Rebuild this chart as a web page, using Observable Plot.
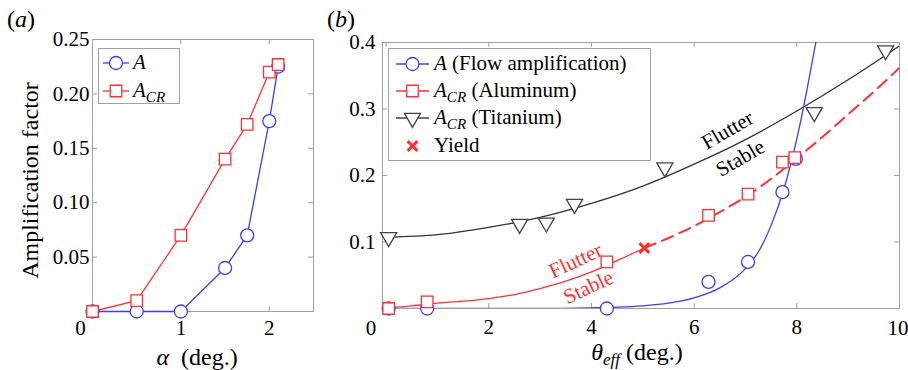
<!DOCTYPE html>
<html>
<head>
<meta charset="utf-8">
<script src="https://cdn.jsdelivr.net/npm/d3@7"></script>
<script src="https://cdn.jsdelivr.net/npm/@observablehq/plot@0.6"></script>
<style>
  html, body { margin: 0; padding: 0; background: #fff; }
  #fig { position: relative; width: 908px; height: 370px; overflow: hidden;
         font-family: "Liberation Serif", "Times New Roman", serif; color: #000; }
  #fig > svg { position: absolute; top: 0; }
  .ov { position: absolute; white-space: nowrap; line-height: 1; }
  .legend { position: absolute; background: #fff; border: 1px solid #a0a0a0; box-sizing: border-box; }
  .legend svg { position: absolute; left: 0; overflow: visible; }
  .sub { font-size: 72%; position: relative; top: 0.32em; font-style: italic; }
</style>
</head>
<body>
<div id="fig"></div>
<script>
// ---- (a) amplification factor versus angle of attack ----
const alphaDeg   = [0, 0.5, 1, 1.5, 1.75, 2.0, 2.1];
const ampFlow    = [0, 0, 0, 0.04, 0.07, 0.175, 0.225];
const ampCR      = [0, 0.01, 0.07, 0.14, 0.172, 0.22, 0.227];
const alphaTicks = [0, 1, 2];
const ampTicksA  = [0.05, 0.10, 0.15, 0.20, 0.25];

// ---- (b) amplification factor versus effective angle ----
const thetaFlow  = [0.05, 0.8, 4.3, 6.28, 7.05, 7.72, 7.98];
const thetaAl    = [0.05, 0.8, 4.3, 6.28, 7.05, 7.72, 7.96];
const thetaTi    = [0.05, 2.6, 3.12, 3.67, 5.43, 8.34, 9.73];
const crTi       = [0.107, 0.127, 0.129, 0.157, 0.212, 0.295, 0.388];
const yieldTheta = [5.03];
const yieldCR    = [0.091];

// fitted curves
const fitFlowTheta = [0, 1, 2, 3, 4, 4.5, 5, 5.5, 6, 6.5, 7, 7.25, 7.5, 7.75, 8, 8.2, 8.37];
const fitFlowA     = [0, 0, 0, 0, 0.001, 0.002, 0.004, 0.008, 0.016, 0.031, 0.06, 0.085, 0.125, 0.18, 0.255, 0.33, 0.4];
const fitAlTheta   = [0, 0.5, 1, 1.5, 2, 2.5, 3, 3.5, 4, 4.5, 5.03];
const fitAlCR      = [0.001, 0.004, 0.008, 0.011, 0.015, 0.021, 0.03, 0.041, 0.055, 0.072, 0.091];
const fitAlTheta2  = [5.03, 5.5, 6, 6.5, 7, 7.5, 8, 8.5, 9, 9.5, 10];
const fitAlCR2     = [0.091, 0.106, 0.124, 0.145, 0.168, 0.195, 0.226, 0.258, 0.292, 0.326, 0.362];
const fitTiTheta   = [0, 1, 2, 3, 4, 5, 6, 7, 8, 9, 10];
const fitTiCR      = [0.107, 0.111, 0.122, 0.137, 0.158, 0.184, 0.217, 0.254, 0.297, 0.344, 0.395];

const thetaTicks = [0, 2, 4, 6, 8, 10];
const ampTicksB  = [0.1, 0.2, 0.3, 0.4];

// region labels along the flutter boundaries
const boundTi    = {theta: [6.65, 6.9], amp: [0.268, 0.226], text: ["Flutter", "Stable"]};
const boundAl    = {theta: [3.69, 3.94], amp: [0.072, 0.032], text: ["Flutter", "Stable"]};

const BLUE = "#3c3cff", RED = "#ff3030", DARK = "#333", FRAME = "#a0a0a0";
const SERIF = '"Liberation Serif", "Times New Roman", serif';

const rows = (xs, ys) => xs.map((x, i) => ({x, y: ys[i]}));
const fig = d3.select("#fig");

function inwardTicks(xs, ys, w, h) {
  return [
    Plot.tickX(xs, {x: d => d, stroke: FRAME, insetTop: h - 5}),
    Plot.tickX(xs, {x: d => d, stroke: FRAME, insetBottom: h - 5}),
    Plot.tickY(ys, {y: d => d, stroke: FRAME, insetRight: w - 5}),
    Plot.tickY(ys, {y: d => d, stroke: FRAME, insetLeft: w - 5})
  ];
}

// ---------- panel (a) ----------
const A = {width: 330, height: 370, ml: 92, mr: 17, mt: 39, mb: 59};
const aW = A.width - A.ml - A.mr, aH = A.height - A.mt - A.mb;
const plotA = Plot.plot({
  width: A.width, height: A.height,
  marginLeft: A.ml, marginRight: A.mr, marginTop: A.mt, marginBottom: A.mb,
  x: {domain: [0, 2.5]},
  y: {domain: [0, 0.25]},
  style: {fontFamily: SERIF, fontSize: "21px", color: "#000", background: "transparent"},
  marks: [
    Plot.frame({stroke: FRAME}),
    ...inwardTicks(alphaTicks, ampTicksA, aW, aH),
    Plot.axisX(alphaTicks, {tickSize: 0, tickPadding: 9, tickFormat: d => d === 0 ? "" : String(d), label: null, fontFamily: SERIF}),
    Plot.axisY(ampTicksA, {tickSize: 0, tickPadding: 3, tickFormat: d3.format(".2f"), label: null, fontFamily: SERIF}),
    // origin label, set left of the corner
    Plot.text(alphaTicks.filter(d => d === 0), {x: d => d, frameAnchor: "bottom", lineAnchor: "middle", dy: 17, dx: -12, text: d => String(d), fontFamily: SERIF}),
    Plot.text(["Amplification factor"], {frameAnchor: "left", textAnchor: "middle", lineAnchor: "middle", dx: -62, dy: 5, rotate: -90, fontSize: 24, fontFamily: SERIF}),
    Plot.text(["α  (deg.)"], {frameAnchor: "bottom", textAnchor: "middle", lineAnchor: "middle", dy: 46, dx: -6, fontSize: 24, fontFamily: SERIF}),
    Plot.line(rows(alphaDeg, ampCR), {x: "x", y: "y", stroke: RED, strokeWidth: 1.3}),
    Plot.line(rows(alphaDeg, ampFlow), {x: "x", y: "y", stroke: BLUE, strokeWidth: 1.3}),
    Plot.dot(rows(alphaDeg, ampFlow), {x: "x", y: "y", symbol: "circle", r: 6.5, stroke: BLUE, fill: "white", strokeWidth: 1.3}),
    Plot.dot(rows(alphaDeg, ampCR), {x: "x", y: "y", symbol: "square", r: 6.5, stroke: RED, fill: "white", strokeWidth: 1.3})
  ]
});
d3.select(plotA).style("left", "0px");
fig.node().appendChild(plotA);

// ---------- panel (b) ----------
const B = {left: 330, width: 578, height: 370, ml: 52, mr: 9, mt: 42, mb: 62};
const bW = B.width - B.ml - B.mr, bH = B.height - B.mt - B.mb;
const thetaFirst = thetaTicks[0], thetaLast = thetaTicks[thetaTicks.length - 1];
const plotB = Plot.plot({
  width: B.width, height: B.height,
  marginLeft: B.ml, marginRight: B.mr, marginTop: B.mt, marginBottom: B.mb,
  x: {domain: [-0.07, 10]},
  y: {domain: [0, 0.4]},
  style: {fontFamily: SERIF, fontSize: "21px", color: "#000", background: "transparent"},
  marks: [
    Plot.frame({stroke: FRAME}),
    ...inwardTicks(thetaTicks, ampTicksB, bW, bH),
    Plot.axisX(thetaTicks, {tickSize: 0, tickPadding: 11, tickFormat: d => (d === thetaFirst || d === thetaLast) ? "" : String(d), label: null, fontFamily: SERIF}),
    Plot.axisY(ampTicksB, {tickSize: 0, tickPadding: 7, tickFormat: d3.format(".1f"), label: null, fontFamily: SERIF}),
    // end labels: origin left of the corner, last one kept inside the page
    Plot.text([thetaFirst], {x: d => d, frameAnchor: "bottom", lineAnchor: "middle", dy: 20, dx: -15, text: d => String(d), fontFamily: SERIF}),
    Plot.text([thetaLast], {x: d => d, frameAnchor: "bottom", lineAnchor: "middle", textAnchor: "end", dy: 20, dx: 9, text: d => String(d), fontFamily: SERIF}),
    Plot.text(["θeff (deg.)"], {frameAnchor: "bottom", textAnchor: "middle", lineAnchor: "middle", dy: 44, dx: -4, fontSize: 24, fontFamily: SERIF}),
    // fitted boundaries
    Plot.line(rows(fitTiTheta, fitTiCR), {x: "x", y: "y", stroke: DARK, strokeWidth: 1.3, curve: "monotone-x", clip: true}),
    Plot.line(rows(fitAlTheta, fitAlCR), {x: "x", y: "y", stroke: RED, strokeWidth: 1.3, curve: "monotone-x", clip: true}),
    Plot.line(rows(fitAlTheta2, fitAlCR2), {x: "x", y: "y", stroke: RED, strokeWidth: 2, strokeDasharray: "12,7", curve: "monotone-x", clip: true}),
    Plot.line(rows(fitFlowTheta, fitFlowA), {x: "x", y: "y", stroke: BLUE, strokeWidth: 1.3, curve: "monotone-x", clip: true}),
    // measured points
    Plot.dot(rows(thetaTi, crTi), {x: "x", y: "y", symbol: "triangle", rotate: 180, r: 6, stroke: "#444", fill: "white", strokeWidth: 1.3}),
    Plot.dot(rows(thetaFlow, ampFlow), {x: "x", y: "y", symbol: "circle", r: 6.5, stroke: BLUE, fill: "white", strokeWidth: 1.3}),
    Plot.dot(rows(thetaAl, ampCR), {x: "x", y: "y", symbol: "square", r: 6.5, stroke: RED, fill: "white", strokeWidth: 1.3}),
    Plot.dot(rows(yieldTheta, yieldCR), {x: "x", y: "y", symbol: "times", r: 4.5, stroke: RED, strokeWidth: 3}),
    // region labels
    Plot.text(rows(boundTi.theta, boundTi.amp), {x: "x", y: "y", text: (d, i) => boundTi.text[i], rotate: -30, fill: "#000", fontSize: 21, fontFamily: SERIF}),
    Plot.text(rows(boundAl.theta, boundAl.amp), {x: "x", y: "y", text: (d, i) => boundAl.text[i], rotate: -25, fill: RED, fontSize: 21, fontFamily: SERIF})
  ]
});
d3.select(plotB).style("left", B.left + "px");
fig.node().appendChild(plotB);

// rich text (italics and subscripts) in the axis titles
function richText(svg, plain, html) {
  d3.select(svg).selectAll("text").filter(function() { return this.textContent === plain; })
    .attr("xml:space", "preserve").html(html);
}
richText(plotA, "α  (deg.)", '<tspan font-style="italic">α</tspan>  (deg.)');
richText(plotB, "θeff (deg.)", '<tspan font-style="italic">θ</tspan><tspan font-style="italic" font-size="17" dy="5">eff</tspan><tspan dy="-5"> (deg.)</tspan>');

// panel letters
fig.append("div").attr("class", "ov").style("left", "7px").style("top", "7px").style("font-size", "24px")
  .html('(<i>a</i>)');
fig.append("div").attr("class", "ov").style("left", "327px").style("top", "7px").style("font-size", "24px")
  .html('(<i>b</i>)');

// legends
const legendA = [
  {html: "<i>A</i>", color: BLUE, symbol: d3.symbolCircle, r: 6.5, line: true},
  {html: '<i>A</i><span class="sub">CR</span>', color: RED, symbol: d3.symbolSquare, r: 6.5, line: true}
];
const legendB = [
  {html: "<i>A</i> (Flow amplification)", color: BLUE, symbol: d3.symbolCircle, r: 6.5, line: true},
  {html: '<i>A</i><span class="sub">CR</span> (Aluminum)', color: RED, symbol: d3.symbolSquare, r: 6.5, line: true},
  {html: '<i>A</i><span class="sub">CR</span> (Titanium)', color: "#444", symbol: d3.symbolTriangle, r: 6, rotate: 180, line: true},
  {html: "Yield", color: RED, symbol: d3.symbolTimes, r: 4.5, cross: true, line: false}
];

function addLegend(box, entries, rowY, lineX0, lineX1, markX, textX) {
  const div = fig.append("div").attr("class", "legend")
    .style("left", box.left + "px").style("top", box.top + "px")
    .style("width", box.width + "px").style("height", box.height + "px");
  entries.forEach((e, i) => {
    const y = rowY[i];
    const s = div.append("svg").attr("width", textX).attr("height", 24).style("top", (y - 12) + "px");
    if (e.line) s.append("line").attr("x1", lineX0).attr("x2", lineX1).attr("y1", 12).attr("y2", 12)
      .attr("stroke", e.color).attr("stroke-width", 1.3);
    s.append("path").attr("d", d3.symbol(e.symbol, Math.PI * e.r * e.r)())
      .attr("transform", `translate(${markX},12) rotate(${e.rotate || 0})`)
      .attr("fill", e.cross ? "none" : "white").attr("stroke", e.color)
      .attr("stroke-width", e.cross ? 3 : 1.3);
    div.append("div").attr("class", "ov").style("left", textX + "px").style("top", y + "px")
      .style("transform", "translateY(-52%)").style("font-size", "21px").html(e.html);
  });
}
addLegend({left: 98, top: 48, width: 82, height: 56}, legendA, [14, 42], 4, 30, 17, 34);
addLegend({left: 388, top: 48, width: 263, height: 113}, legendB, [15, 42, 69, 97], 7, 40, 23.5, 45);
</script>
</body>
</html>
